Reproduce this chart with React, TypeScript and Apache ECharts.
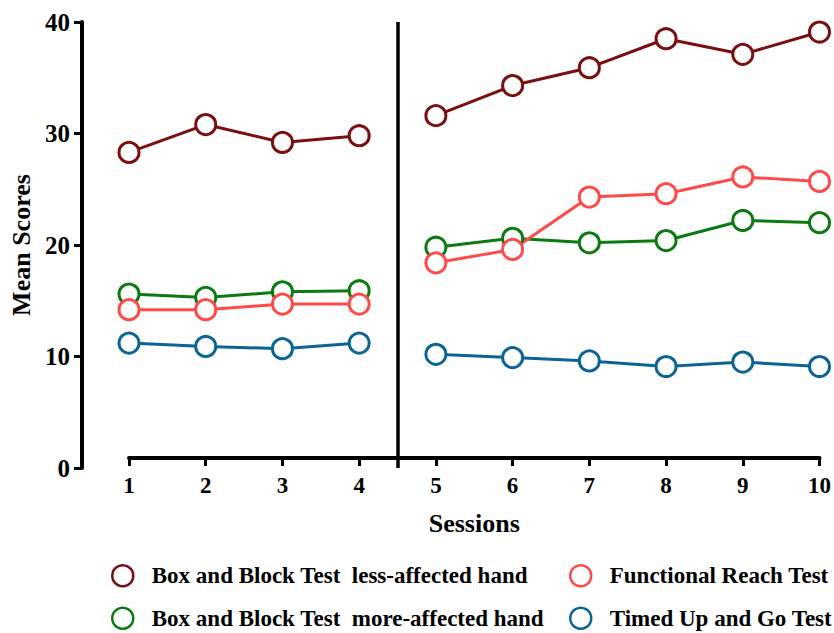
import React, { useEffect, useRef } from "react";
import * as echarts from "echarts";

const sessions = [1, 2, 3, 4, 5, 6, 7, 8, 9, 10];
const lessAffected = [28.3, 30.8, 29.2, 29.8, 31.6, 34.3, 35.9, 38.5, 37.1, 39.1];
const moreAffected = [15.6, 15.3, 15.8, 15.9, 19.8, 20.6, 20.2, 20.4, 22.2, 22.0];
const functionalReach = [14.2, 14.2, 14.7, 14.7, 18.4, 19.6, 24.3, 24.6, 26.1, 25.7];
const timedUpGo = [11.2, 10.9, 10.7, 11.2, 10.2, 9.9, 9.6, 9.1, 9.5, 9.1];
const phaseBreak = 4.5;
const yTicks = [0, 10, 20, 30, 40];

const seriesDefs = [
  { name: "Box and Block Test  less-affected hand", values: lessAffected, color: "#7B0E0E" },
  { name: "Box and Block Test  more-affected hand", values: moreAffected, color: "#0C7A12" },
  { name: "Functional Reach Test", values: functionalReach, color: "#FF4A4A" },
  { name: "Timed Up and Go Test", values: timedUpGo, color: "#0B6496" },
];

const FONT = "'Liberation Serif', 'Times New Roman', serif";

export default function App() {
  const ref = useRef<HTMLDivElement>(null);
  useEffect(() => {
    if (!ref.current) return;
    const chart = echarts.init(ref.current, undefined, { renderer: "svg" });
    const series: any[] = [];
    seriesDefs.forEach((d) => {
      const pts = sessions.map((s, i) => [s, d.values[i]]);
      const segs = [pts.filter((p) => p[0] < phaseBreak), pts.filter((p) => p[0] > phaseBreak)];
      segs.forEach((seg) => {
        series.push({
          type: "line",
          name: d.name,
          data: seg,
          symbol: "circle",
          symbolSize: 20,
          lineStyle: { color: d.color, width: 3 },
          itemStyle: { color: "#fff", borderColor: d.color, borderWidth: 3 },
          emphasis: { disabled: true },
        });
      });
    });
    series.push({
      type: "line",
      name: "phase",
      data: [],
      silent: true,
      markLine: {
        silent: true,
        symbol: ["none", "none"],
        label: { show: false },
        lineStyle: { color: "#000", width: 3.5, type: "solid" },
        data: [{ xAxis: phaseBreak }],
      },
    });
    const legendItem = (d: any) => ({
      name: d.name,
      icon: "circle",
      itemStyle: { color: "#fff", borderColor: d.color, borderWidth: 2.5 },
    });
    const legendCommon = {
      orient: "vertical",
      top: 564,
      height: 200,
      padding: 0,
      itemWidth: 48,
      itemHeight: 21,
      itemGap: 19,
      selectedMode: false,
      textStyle: { fontFamily: FONT, fontWeight: "bold", fontSize: 23, color: "#000" },
    };
    chart.setOption({
      animation: false,
      backgroundColor: "#fff",
      grid: { left: 125, right: 9, top: 22, bottom: 165 },
      legend: [
        { ...legendCommon, left: 111, data: [legendItem(seriesDefs[0]), legendItem(seriesDefs[1])] },
        { ...legendCommon, left: 569, data: [legendItem(seriesDefs[2]), legendItem(seriesDefs[3])] },
      ],
      xAxis: {
        type: "value",
        min: 1,
        max: 10,
        interval: 1,
        offset: -10,
        name: "Sessions",
        nameLocation: "middle",
        nameGap: 52,
        nameTextStyle: { fontFamily: FONT, fontWeight: "bold", fontSize: 26, color: "#000" },
        axisLine: { show: true, lineStyle: { color: "#000", width: 4 } },
        axisTick: { show: true, length: 8, lineStyle: { color: "#000", width: 3 } },
        axisLabel: { margin: 16, fontFamily: FONT, fontWeight: "bold", fontSize: 23, color: "#000" },
        splitLine: { show: false },
      },
      yAxis: {
        type: "value",
        min: yTicks[0],
        max: yTicks[yTicks.length - 1],
        interval: 10,
        offset: 47,
        name: "Mean Scores",
        nameLocation: "middle",
        nameGap: 48,
        nameRotate: 90,
        nameTextStyle: { fontFamily: FONT, fontWeight: "bold", fontSize: 26, color: "#000" },
        axisLine: { show: true, lineStyle: { color: "#000", width: 4 } },
        axisTick: { show: true, length: 8, lineStyle: { color: "#000", width: 3 } },
        axisLabel: { margin: 12, fontFamily: FONT, fontWeight: "bold", fontSize: 25, color: "#000" },
        splitLine: { show: false },
      },
      series,
    });
    return () => chart.dispose();
  }, []);
  return (
    <div
      ref={ref}
      style={{ position: "absolute", left: 0, top: 0, width: 834, height: 633 }}
    />
  );
}
